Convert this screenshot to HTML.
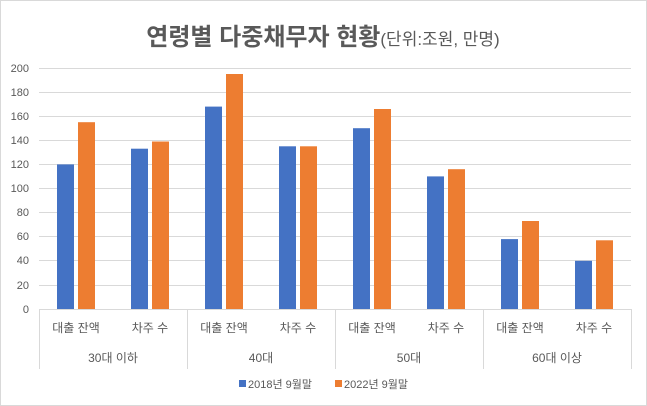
<!DOCTYPE html><html><head><meta charset="utf-8"><style>
body{margin:0;background:#fff}
svg{display:block;font-family:"Liberation Sans","Noto Sans CJK KR",sans-serif}
</style></head><body>
<svg width="647" height="406" viewBox="0 0 647 406">
<rect x="0.5" y="0.5" width="646" height="405" fill="#fff" stroke="#d9d9d9"/>
<text x="323" y="45" text-anchor="middle" fill="#595959"><tspan font-size="24" font-weight="bold">연령별 다중채무자 현황</tspan><tspan font-size="17">(단위:조원, 만명)</tspan></text>
<g stroke="#d9d9d9" stroke-width="1">
<line x1="39" x2="631" y1="68.5" y2="68.5"/><line x1="39" x2="631" y1="92.5" y2="92.5"/><line x1="39" x2="631" y1="116.5" y2="116.5"/><line x1="39" x2="631" y1="140.5" y2="140.5"/><line x1="39" x2="631" y1="164.5" y2="164.5"/><line x1="39" x2="631" y1="188.5" y2="188.5"/><line x1="39" x2="631" y1="212.5" y2="212.5"/><line x1="39" x2="631" y1="236.5" y2="236.5"/><line x1="39" x2="631" y1="260.5" y2="260.5"/><line x1="39" x2="631" y1="285.5" y2="285.5"/><line x1="39" x2="631" y1="309.5" y2="309.5"/>
<line x1="39.5" x2="39.5" y1="309" y2="369"/><line x1="187.5" x2="187.5" y1="309" y2="369"/><line x1="335.5" x2="335.5" y1="309" y2="369"/><line x1="483.5" x2="483.5" y1="309" y2="369"/><line x1="631.5" x2="631.5" y1="309" y2="369"/>
</g>
<g font-size="11" fill="#595959" text-anchor="end">
<text x="29" y="72">200</text><text x="29" y="96">180</text><text x="29" y="120">160</text><text x="29" y="144">140</text><text x="29" y="168">120</text><text x="29" y="192">100</text><text x="29" y="216">80</text><text x="29" y="240">60</text><text x="29" y="264">40</text><text x="29" y="289">20</text><text x="29" y="313">0</text>
</g>
<g fill="#4472c4">
<rect x="57" y="164.4" width="17" height="144.6"/>
<rect x="131" y="148.7" width="17" height="160.3"/>
<rect x="205" y="106.6" width="17" height="202.4"/>
<rect x="279" y="146.3" width="17" height="162.7"/>
<rect x="353" y="128.2" width="17" height="180.8"/>
<rect x="427" y="176.4" width="17" height="132.6"/>
<rect x="501" y="239.1" width="17" height="69.9"/>
<rect x="575" y="260.8" width="17" height="48.2"/>
</g>
<g fill="#ed7d31">
<rect x="78" y="122.2" width="17" height="186.8"/>
<rect x="152" y="141.5" width="17" height="167.5"/>
<rect x="226" y="74" width="17" height="235"/>
<rect x="300" y="146.3" width="17" height="162.7"/>
<rect x="374" y="109" width="17" height="200"/>
<rect x="448" y="169.2" width="17" height="139.8"/>
<rect x="522" y="221" width="17" height="88"/>
<rect x="596" y="240.3" width="17" height="68.7"/>
</g>
<g font-size="12" fill="#595959" text-anchor="middle">
<text x="76" y="332">대출 잔액</text><text x="150" y="332">차주 수</text><text x="224" y="332">대출 잔액</text><text x="298" y="332">차주 수</text><text x="372" y="332">대출 잔액</text><text x="446" y="332">차주 수</text><text x="520" y="332">대출 잔액</text><text x="594" y="332">차주 수</text>
<text x="113" y="362">30대 이하</text><text x="261" y="362">40대</text><text x="409" y="362">50대</text><text x="557" y="362">60대 이상</text>
</g>
<g font-size="11" fill="#595959">
<rect x="239" y="380" width="7" height="7" fill="#4472c4"/><text x="248" y="388">2018년 9월말</text>
<rect x="335" y="380" width="7" height="7" fill="#ed7d31"/><text x="344" y="388">2022년 9월말</text>
</g>
</svg></body></html>
